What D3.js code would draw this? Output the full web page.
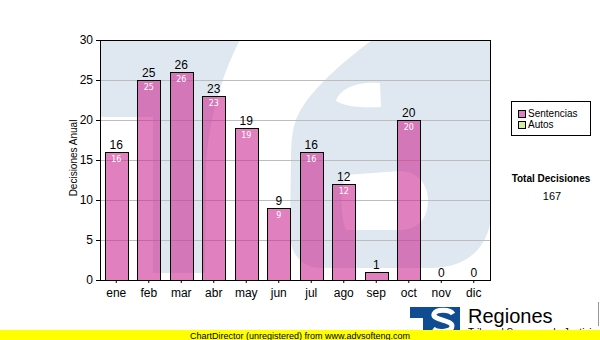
<!DOCTYPE html>
<html><head><meta charset="utf-8">
<script src="https://cdn.jsdelivr.net/npm/d3@7"></script>
<style>body{margin:0;background:#fff}svg{display:block}</style>
</head><body>
<svg id="c" width="600" height="340"></svg>
<script>
const months = ["ene","feb","mar","abr","may","jun","jul","ago","sep","oct","nov","dic"];
const sentencias = [16,25,26,23,19,9,16,12,1,20,0,0];
const autos = [0,0,0,0,0,0,0,0,0,0,0,0];
const yTicks = [0,5,10,15,20,25,30];
const seriesNames = ["Sentencias","Autos"];
const seriesColors = ["#e07fbf","#d8eca0"];
const totalTitle = "Total Decisiones";
const yTitle = "Decisiones Anual";

const svg = d3.select("#c");
const P = {l:100, r:490, t:40, b:280};
const x = d3.scaleBand().domain(months).range([P.l, P.r]).paddingInner(0.29).paddingOuter(0.145);
const y = d3.scaleLinear().domain([0,30]).range([P.b, P.t]);
const FONT = "'Liberation Sans', Arial, sans-serif";
const WM = "#dfe8f1";

svg.append("rect").attr("width",600).attr("height",340).attr("fill","#fff");

// watermark (faded logo behind the plot)
svg.append("clipPath").attr("id","pc").append("rect")
  .attr("x",P.l).attr("y",P.t).attr("width",P.r-P.l).attr("height",P.b-P.t);
const wm = svg.append("g").attr("clip-path","url(#pc)");
wm.append("path").attr("fill",WM)
  .attr("d","M100,40 H240 C224,70 209,115 206,165 L205,273 H153 V117 H100 Z");
wm.append("path").attr("fill",WM).attr("fill-rule","evenodd")
  .attr("d","M372,40 H492 V205 C492,245 470,268 430,268 L322,268 C302,268 290,255 290,232 L291,160 C291,145 292,132 295,123 C302,98 335,68 372,40 Z " +
            "M336,101 C340,88 358,81 380,83 L381,107 C362,108 346,107 336,101 Z " +
            "M346,175 L400,171 C418,171 428,185 428,200 C428,218 418,230 400,230 L346,230 C340,215 340,190 346,175 Z");

// grid
svg.append("g").selectAll("line").data(yTicks.filter(d=>d>0 && d<30)).join("line")
  .attr("x1",P.l).attr("x2",P.r)
  .attr("y1",d=>Math.round(y(d))+0.5).attr("y2",d=>Math.round(y(d))+0.5)
  .attr("stroke","#bdbdbd");

// bars
const data = months.map((m,i)=>({m, s:sentencias[i], a:autos[i], t:sentencias[i]+autos[i]}));
const bw = Math.round(x.bandwidth());
const bx = d => Math.round(x(d.m))+0.5;
svg.append("g").selectAll("rect").data(data.filter(d=>d.s>0)).join("rect")
  .attr("x",bx).attr("width",bw)
  .attr("y",d=>Math.round(y(d.s))+0.5).attr("height",d=>Math.round(y(0))-Math.round(y(d.s)))
  .attr("fill","rgba(203,43,147,0.6)").attr("stroke","#000");
svg.append("g").selectAll("rect").data(data.filter(d=>d.a>0)).join("rect")
  .attr("x",bx).attr("width",bw)
  .attr("y",d=>Math.round(y(d.t))+0.5).attr("height",d=>Math.round(y(d.s))-Math.round(y(d.t)))
  .attr("fill",seriesColors[1]).attr("stroke","#000");

// plot border
svg.append("rect").attr("x",P.l+0.5).attr("y",P.t+0.5).attr("width",P.r-P.l).attr("height",P.b-P.t)
  .attr("fill","none").attr("stroke","#000");

// labels
const cx = d => x(d.m)+x.bandwidth()/2;
svg.append("g").selectAll("text").data(data).join("text")
  .attr("x",cx).attr("y",d=>y(d.t)-3).attr("text-anchor","middle")
  .attr("font-family",FONT).attr("font-size",12).attr("fill","#000").text(d=>d.t);
svg.append("g").selectAll("text").data(data.filter(d=>d.s>1)).join("text")
  .attr("x",cx).attr("y",d=>y(d.s)+10).attr("text-anchor","middle")
  .attr("font-family","'DejaVu Sans', Verdana, sans-serif").attr("font-size",8).attr("fill","#fff").text(d=>d.s);

// axes
const ya = svg.append("g").attr("transform",`translate(${P.l},0)`)
  .call(d3.axisLeft(y).tickValues(yTicks).tickSize(4).tickPadding(3));
ya.select(".domain").remove();
ya.selectAll("text").attr("font-family",FONT).attr("font-size",12).attr("fill","#000");
ya.selectAll("line").attr("stroke","#000");
const xa = svg.append("g").attr("transform",`translate(0,${P.b})`)
  .call(d3.axisBottom(x).tickSize(3).tickPadding(5));
xa.select(".domain").remove();
xa.selectAll("text").attr("font-family",FONT).attr("font-size",12).attr("fill","#000");
xa.selectAll("line").attr("stroke","#000");

svg.append("text").attr("transform","translate(77,158) rotate(-90)").attr("text-anchor","middle")
  .attr("font-family",FONT).attr("font-size",10).attr("fill","#000").text(yTitle);

// legend
svg.append("rect").attr("x",511.5).attr("y",101.5).attr("width",79).attr("height",34)
  .attr("fill","#fff").attr("stroke","#000");
const lg = svg.append("g").selectAll("g").data(seriesNames).join("g")
  .attr("transform",(d,i)=>`translate(518,${110+i*11})`);
lg.append("rect").attr("x",0.5).attr("y",0.5).attr("width",7).attr("height",7)
  .attr("fill",(d,i)=>seriesColors[i]).attr("stroke","#000");
lg.append("text").attr("x",10).attr("y",7).attr("font-family",FONT).attr("font-size",10)
  .attr("fill","#000").text(d=>d);

svg.append("text").attr("x",551).attr("y",182).attr("text-anchor","middle")
  .attr("font-family",FONT).attr("font-size",10).attr("font-weight","bold").text(totalTitle);
svg.append("text").attr("x",552).attr("y",200).attr("text-anchor","middle")
  .attr("font-family",FONT).attr("font-size",11).text(d3.sum(sentencias)+d3.sum(autos));

// bottom logo
const lo = svg.append("g");
lo.append("rect").attr("x",410).attr("y",307).attr("width",50).attr("height",33).attr("fill","#0f4c92");
lo.append("rect").attr("x",410).attr("y",318).attr("width",13).attr("height",22).attr("fill","#fff");
lo.append("path").attr("fill","none").attr("stroke","#fff").attr("stroke-width",5)
  .attr("d","M453,314 C450,309 436,309 434,314 C432,320 452,320 452,326 C452,332 438,333 433,329");
lo.append("text").attr("x",468).attr("y",323).attr("font-family",FONT).attr("font-size",20).attr("fill","#000").text("Regiones");
lo.append("text").attr("x",468).attr("y",336).attr("font-family",FONT).attr("font-size",10).attr("fill","#000").text("Tribunal Supremo de Justicia");
svg.append("line").attr("x1",598.5).attr("x2",598.5).attr("y1",302).attr("y2",326).attr("stroke","#999");

// yellow banner
svg.append("rect").attr("x",0).attr("y",330).attr("width",600).attr("height",10).attr("fill","#ffff00");
svg.append("text").attr("x",300).attr("y",338.5).attr("text-anchor","middle")
  .attr("font-family",FONT).attr("font-size",9).attr("fill","#000")
  .text("ChartDirector (unregistered) from www.advsofteng.com");
</script>
</body></html>
